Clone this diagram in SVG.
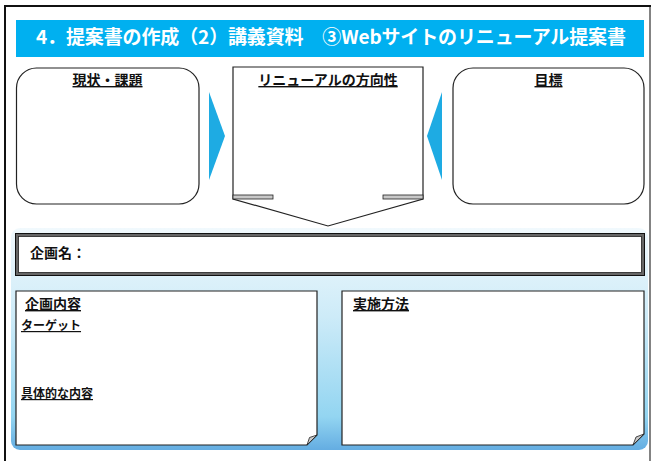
<svg xmlns="http://www.w3.org/2000/svg" width="653" height="461" viewBox="0 0 653 461">
<defs>
<linearGradient id="bg" x1="0" y1="0" x2="0" y2="1">
<stop offset="0" stop-color="#f1f9fd"/>
<stop offset="0.4" stop-color="#cdebf8"/>
<stop offset="0.85" stop-color="#93d5f1"/>
<stop offset="1" stop-color="#64ade2"/>
</linearGradient>
<style>
.lbl{font-family:"Noto Sans CJK JP","Noto Sans",sans-serif;font-weight:bold;fill:#111;}
.h{font-size:14px;text-decoration:underline;}
.s{font-size:12px;text-decoration:underline;}
.box{fill:#fff;stroke:#222;stroke-width:1.2;}
.tri{fill:#1eabe3;}
.fold{fill:#c8c8c8;stroke:#222;stroke-width:0.8;}
</style>
</defs>
<rect x="0" y="0" width="653" height="461" fill="#fff"/>
<path d="M5,461 V6 H650 V461" fill="none" stroke="#111" stroke-width="2"/>
<line x1="650" y1="7" x2="650" y2="461" stroke="#aaa" stroke-width="1.5"/>
<g id="title">
<rect x="16" y="20" width="628" height="37" fill="#00b0f0"/>
<text x="36" y="44" font-family="'Noto Sans CJK JP','Noto Sans',sans-serif" font-weight="bold" font-size="19" fill="#fff" textLength="590" lengthAdjust="spacing">4．提案書の作成（2）講義資料　③Webサイトのリニューアル提案書</text>
</g>
<rect id="panel" x="11" y="228" width="637" height="222" rx="9" fill="url(#bg)"/>
<g id="genjo">
<rect class="box" x="16.5" y="68" width="182.5" height="136" rx="20"/>
<text class="lbl h" x="107.5" y="85" text-anchor="middle">現状・課題</text>
</g>
<g id="hoko">
<path class="box" d="M233,67 H423 V199 L328,226 L233,199 Z"/>
<rect class="fold" x="233" y="195" width="40" height="4"/>
<rect class="fold" x="383" y="195" width="40" height="4"/>
<text class="lbl h" x="328" y="85" text-anchor="middle">リニューアルの方向性</text>
</g>
<g id="mokuhyo">
<rect class="box" x="453" y="68" width="191" height="136" rx="20"/>
<text class="lbl h" x="548.5" y="85" text-anchor="middle">目標</text>
</g>
<g id="connectors">
<path class="tri" d="M209,92 L225,136 L209,180 Z"/>
<path class="tri" d="M442,92 L427,136 L442,180 Z"/>
</g>
<g id="kikakumei">
<rect x="17" y="235" width="626" height="39" fill="#fff" stroke="#666" stroke-width="3"/>
<rect x="15.5" y="233.5" width="629" height="42" fill="none" stroke="#111" stroke-width="1"/>
<rect x="18.5" y="236.5" width="623" height="36" fill="none" stroke="#222" stroke-width="0.8"/>
<text class="lbl" x="30" y="258" font-size="14">企画名：</text>
</g>
<g id="naiyo">
<path class="box" d="M16,291 H317 V435 L307,445 H16 Z"/>
<path class="fold" d="M317,435 L307,445 L309.5,437.5 Z"/>
<text class="lbl h" x="25" y="309">企画内容</text>
<text class="lbl s" x="21" y="330">ターゲット</text>
<text class="lbl s" x="21" y="398">具体的な内容</text>
</g>
<g id="hoho">
<path class="box" d="M342,291 H644 V434 L633,445 H342 Z"/>
<path class="fold" d="M644,434 L633,445 L636,437 Z"/>
<text class="lbl h" x="353" y="309">実施方法</text>
</g>
</svg>
